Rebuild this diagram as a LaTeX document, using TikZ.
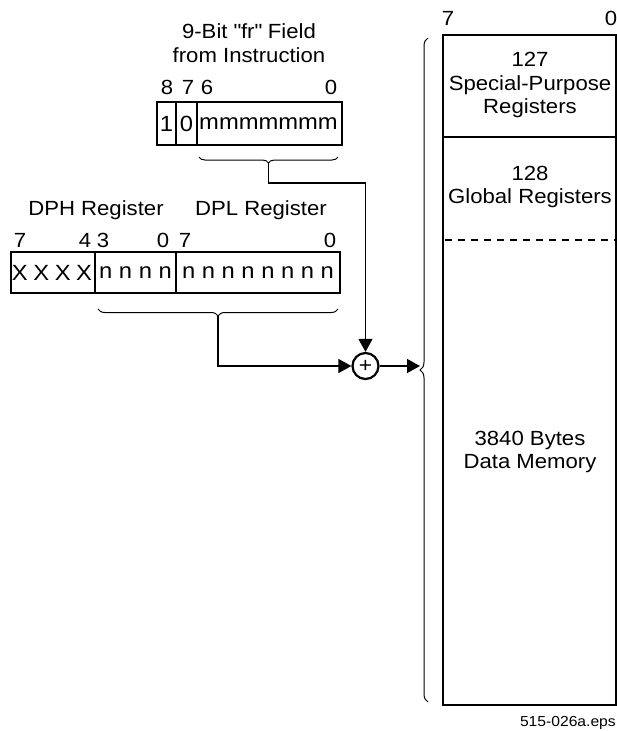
\documentclass[tikz,border=0pt]{standalone}
\usepackage{fontspec}
\setmainfont{Liberation Sans}[FakeStretch=1.08]
\usetikzlibrary{arrows.meta,decorations.pathreplacing}
\tikzset{
  lbl/.style={inner sep=0pt,font=\fontsize{20.5}{23.5}\selectfont},
  cell/.style={inner sep=0pt,font=\fontsize{22}{24}\selectfont},
  boxline/.style={line width=2pt},
  brc/.style={decorate,decoration={brace,amplitude=#1},line width=1pt},
  conn/.style={line width=1.3pt,-{Triangle[length=13pt,width=14pt]}},
}
\begin{document}
\begin{tikzpicture}[x=1pt,y=-1pt]
\useasboundingbox (0,0) rectangle (617,731);
%\draw [help lines,step=50] (0,0) grid (617,731);
% fr field from the instruction
\node [lbl,align=center] (frtitle) at (249,43) {9-Bit \textquotedbl fr\textquotedbl\ Field\\from Instruction};
\node [lbl] (fr8) at (167,87) {8};
\node [lbl] (fr7) at (188,87) {7};
\node [lbl] (fr6) at (207,87) {6};
\node [lbl] (fr0) at (331,87) {0};
\draw [boxline] (157,102) rectangle (342,145);
\draw [boxline] (176,102)--(176,145) (197,102)--(197,145);
\node [cell] (frone) at (166.5,124) {1};
\node [cell] (frzero) at (186.5,124) {0};
\node [cell] (frm) at (268.5,124) {mmmmmmm};
\draw [brc=6] (338,157) -- (199,157);
\coordinate (frtip) at (268.5,163);
% DPH and DPL registers
\node [lbl] (dph) at (96,210) {DPH Register};
\node [lbl] (dpl) at (261,210) {DPL Register};
\node [lbl] (dph7) at (20,240) {7};
\node [lbl] (dph4) at (85,240) {4};
\node [lbl] (dph3) at (103,240) {3};
\node [lbl] (dph0) at (163,240) {0};
\node [lbl] (dpl7) at (185,240) {7};
\node [lbl] (dpl0) at (330,240) {0};
\draw [boxline] (11,252) rectangle (340,293);
\draw [boxline] (95,252)--(95,293) (176,252)--(176,293);
\node [cell] (dpx) at (52,273) {X\kern-1pt\ X\kern-1pt\ X\kern-1pt\ X};
\node [cell] (dphn) at (135.5,273) {n n n n};
\node [cell] (dpln) at (258,273) {n n n n n n n n};
\draw [brc=7] (338,309) -- (98,309);
\coordinate (dptip) at (218,316);
% adder
\node [draw,circle,line width=2.2pt,minimum size=26pt,inner sep=0pt,
       font=\fontsize{21}{21}\selectfont] (sum) at (365.5,366) {+};
\draw [conn] (frtip) -- ++(0,20) -| (sum.north);
\draw [conn] (dptip) |- (sum.west);
% data memory
\draw [brc=8] (428,702) -- (428,38);
\coordinate (memtip) at (420,366);
\draw [conn] (sum.east) -- (memtip);
\node [lbl] (mem7) at (448,18) {7};
\node [lbl] (mem0) at (611,18) {0};
\draw [boxline] (443,35) rectangle (616,705);
\draw [boxline] (443,137) -- (616,137);
\draw [boxline,dash pattern=on 7pt off 6pt] (445,240) -- (616,240);
\node [lbl,align=center] (spr) at (530,85) {127\\Special-Purpose\\Registers};
\node [lbl,align=center] (glob) at (530,187) {128\\Global Registers};
\node [lbl,align=center] (dmem) at (530,452) {3840 Bytes\\Data Memory};
\node [lbl,anchor=east,font=\fontsize{14.5}{16}\selectfont] (fname) at (616,723) {515-026a.eps};
\end{tikzpicture}
\end{document}
